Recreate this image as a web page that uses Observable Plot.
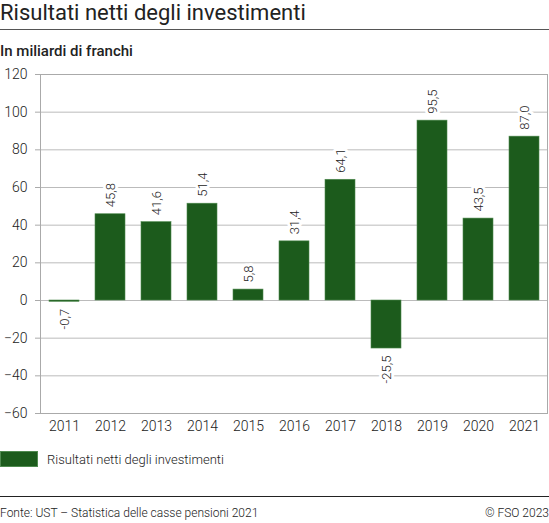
<!DOCTYPE html>
<html>
<head>
<meta charset="utf-8">
<script src="https://cdn.jsdelivr.net/npm/d3@7"></script>
<script src="https://cdn.jsdelivr.net/npm/@observablehq/plot@0.6"></script>
<style>
  body { margin: 0; font-family: Roboto, "Noto Sans", sans-serif; color: #222; background: #fff; }
  #wrap { width: 549px; }
  .title { font-size: 22px; height: 29px; line-height: 25px; border-bottom: 1.5px solid #555; }
  .subtitle { font-size: 15px; font-weight: 500; height: 31px; line-height: 15px; padding-top: 14px; box-sizing: border-box; }
  #chart { height: 378px; }
  .legend { display: flex; align-items: center; height: 16px; margin-top: 12px; font-size: 13px; font-weight: 300; color: #222; }
  .swatch { width: 38px; height: 16px; background: #1c5b1c; margin-right: 9px; box-sizing: border-box; border: 1px solid #4f8a4f; }
  .footer { margin-top: 29px; border-top: 1.5px solid #222; display: flex; justify-content: space-between; font-size: 12px; font-weight: 300; color: #222; padding-top: 9px; }
</style>
</head>
<body>
<div id="wrap">
  <div class="title">Risultati netti degli investimenti</div>
  <div class="subtitle">In miliardi di franchi</div>
  <div id="chart"></div>
  <div class="legend"><div class="swatch"></div>Risultati netti degli investimenti</div>
  <div class="footer"><span>Fonte: UST – Statistica delle casse pensioni 2021</span><span>© FSO 2023</span></div>
</div>
<script>
let years = ['2011', '2012', '2013', '2014', '2015', '2016', '2017', '2018', '2019', '2020', '2021']
let values = [-0.7, 45.8, 41.6, 51.4, 5.8, 31.4, 64.1, -25.5, 95.5, 43.5, 87.0]
let yTicks = [-60, -40, -20, 0, 20, 40, 60, 80, 100, 120]

let data = years.map((y, i) => ({year: y, value: values[i]}))

let fmt = v => v.toFixed(1).replace('.', ',')

let chart = Plot.plot({
  width: 549,
  height: 378,
  marginTop: 13,
  marginBottom: 26,
  marginLeft: 40,
  marginRight: 2,
  style: {fontFamily: 'Roboto, sans-serif', fontSize: '14px', fontWeight: 300, color: '#222', background: 'white'},
  x: {domain: years, paddingInner: 0.35, paddingOuter: 0.175, label: null},
  y: {domain: [-60, 120], label: null},
  marks: [
    Plot.gridY(yTicks, {stroke: '#bbb', strokeOpacity: 1}),
    Plot.frame({stroke: '#aaa'}),
    Plot.axisY({ticks: yTicks, tickSize: 5, tickPadding: 8, stroke: '#aaa', fontSize: 14, fontWeight: 300, label: null}),
    Plot.axisX({tickSize: 0, tickPadding: 8, fontSize: 14, fontWeight: 300, label: null}),
    Plot.barY(data, {x: 'year', y: 'value', fill: '#1c5b1c', stroke: '#4f8a4f', strokeWidth: 0.6}),
    Plot.text(data.filter(d => d.value >= 0), {
      x: 'year', y: 'value', text: d => fmt(d.value),
      rotate: -90, textAnchor: 'start', dy: -7,
      fontSize: 13, fontWeight: 300, fill: '#222', stroke: 'white', strokeWidth: 6
    }),
    Plot.text(data.filter(d => d.value < 0), {
      x: 'year', y: 'value', text: d => fmt(d.value),
      rotate: -90, textAnchor: 'end', dy: 7,
      fontSize: 13, fontWeight: 300, fill: '#222', stroke: 'white', strokeWidth: 6
    })
  ]
})

d3.select('#chart').append(() => chart)
</script>
</body>
</html>
